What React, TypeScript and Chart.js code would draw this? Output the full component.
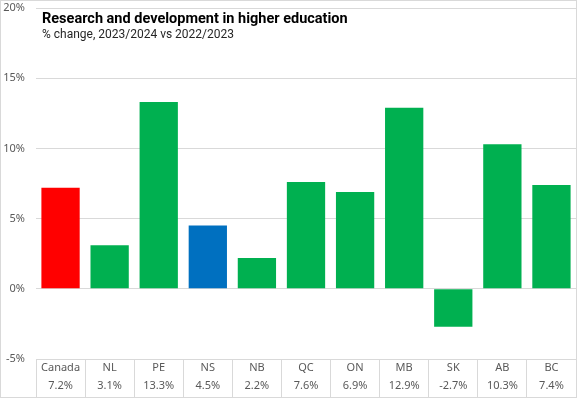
import React, { useEffect, useRef } from "react";
import { Chart, registerables } from "chart.js";

Chart.register(...registerables);

const categories = ["Canada", "NL", "PE", "NS", "NB", "QC", "ON", "MB", "SK", "AB", "BC"];
const values = [7.2, 3.1, 13.3, 4.5, 2.2, 7.6, 6.9, 12.9, -2.7, 10.3, 7.4];
const valueLabels = ["7.2%", "3.1%", "13.3%", "4.5%", "2.2%", "7.6%", "6.9%", "12.9%", "-2.7%", "10.3%", "7.4%"];
const barColors = ["#ff0000", "#00b050", "#00b050", "#0070c0", "#00b050", "#00b050", "#00b050", "#00b050", "#00b050", "#00b050", "#00b050"];
const yTicks = [-5, 0, 5, 10, 15, 20];
const titleText = "Research and development in higher education";
const subtitleText = "% change, 2023/2024 vs 2022/2023";

const FONT = "'Noto Sans', sans-serif";
const TITLE_FONT = "Roboto, 'Noto Sans', sans-serif";

const titlePlugin = {
  id: "titleOverlay",
  afterDraw(chart: any) {
    const ctx = chart.ctx;
    ctx.save();
    ctx.fillStyle = "#000000";
    ctx.textBaseline = "middle";
    ctx.textAlign = "left";
    ctx.font = `bold 14.5px ${TITLE_FONT}`;
    ctx.fillText(titleText, 41, 18);
    ctx.font = `12px ${TITLE_FONT}`;
    ctx.fillStyle = "#262626";
    ctx.fillText(subtitleText, 41, 34);
    ctx.restore();
  },
};

export default function App() {
  const ref = useRef<HTMLCanvasElement | null>(null);

  useEffect(() => {
    document.body.style.margin = "0";
    const canvas = ref.current;
    if (!canvas) return;
    const chart = new Chart(canvas, {
      type: "bar",
      data: {
        labels: categories.map((c, i) => [c, valueLabels[i]]),
        datasets: [
          {
            data: values,
            backgroundColor: barColors,
            barPercentage: 0.78,
            categoryPercentage: 1,
          },
        ],
      },
      options: {
        animation: false,
        responsive: false,
        maintainAspectRatio: false,
        layout: { padding: { left: 0, right: 0, top: 7, bottom: 0 } },
        plugins: {
          legend: { display: false },
          tooltip: { enabled: false },
          title: { display: false },
        },
        scales: {
          y: {
            min: -5,
            max: 20,
            afterBuildTicks: (scale: any) => {
              scale.ticks = yTicks.map((v) => ({ value: v }));
            },
            afterFit: (scale: any) => {
              scale.width = 35;
              scale.paddingTop = 0;
              scale.paddingBottom = 0;
            },
            grid: { color: "#d9d9d9", drawTicks: false },
            border: { display: false },
            ticks: {
              color: "#595959",
              font: { family: FONT, size: 11 },
              padding: 11,
              callback: (v: any) => `${v}%`,
            },
          },
          x: {
            afterFit: (scale: any) => {
              scale.height = 38;
              scale.paddingLeft = 0;
              scale.paddingRight = 0;
            },
            grid: {
              drawOnChartArea: false,
              drawTicks: true,
              tickLength: 38,
              color: "#d9d9d9",
              offset: true,
            },
            border: { display: false },
            ticks: {
              color: "#595959",
              font: { family: FONT, size: 11, lineHeight: 1.6 },
              padding: -38,
              maxRotation: 0,
              autoSkip: false,
            },
          },
        },
      },
      plugins: [titlePlugin],
    });
    return () => chart.destroy();
  }, []);

  return (
    <div
      style={{
        position: "absolute",
        left: 0,
        top: 0,
        width: 577,
        height: 398,
        boxSizing: "border-box",
        border: "1px solid #d9d9d9",
        background: "#ffffff",
      }}
    >
      <canvas ref={ref} width={575} height={396} style={{ display: "block" }} />
    </div>
  );
}
